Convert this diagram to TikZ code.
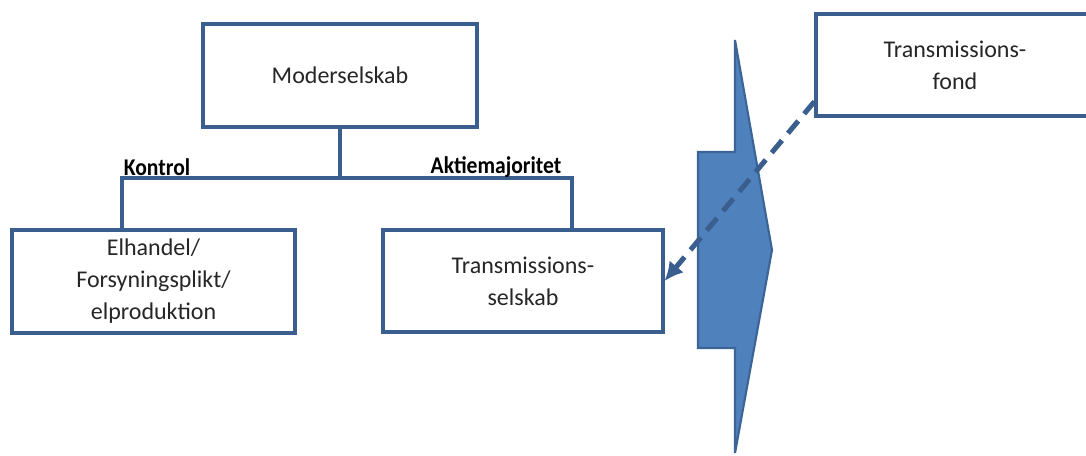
\documentclass[tikz,border=0pt]{standalone}
\usepackage{fontspec}
\setmainfont{Carlito}
\usetikzlibrary{arrows.meta}
\definecolor{boxline}{HTML}{3A5F8E}
\definecolor{shapefill}{HTML}{4F81BD}
\definecolor{shapeline}{HTML}{3B6497}
\begin{document}
\begin{tikzpicture}[x=0.75pt,y=-0.75pt,
  orgbox/.style={draw=boxline,line width=2.3pt,fill=white,align=center,
    font=\fontsize{18}{24}\selectfont,text=black!85,inner sep=0pt},
  conn/.style={draw=boxline,line width=2.3pt},
  lbl/.style={font=\fontsize{18}{22}\selectfont\bfseries,inner sep=0pt,text=black},
  dasharrow/.style={draw=boxline,line width=3.8pt,dash pattern=on 12pt off 7pt,
    -{Latex[length=14pt,width=14pt]}}]
\useasboundingbox (0,0) rectangle (1086,456);
% boxes
\node[orgbox,minimum width=274*0.75pt,minimum height=103*0.75pt] (mod) at (340,75.5) {Moderselskab};
\node[orgbox,minimum width=283*0.75pt,minimum height=103*0.75pt] (elh) at (153.5,281.5) {Elhandel/\\Forsyningsplikt/\\elproduktion};
\node[orgbox,minimum width=280*0.75pt,minimum height=102*0.75pt] (trs) at (523,281) {Transmissions-\\selskab};
\node[orgbox,minimum width=278*0.75pt,minimum height=102*0.75pt] (fond) at (955,65) {Transmissions-\\fond};
% connectors
\coordinate (j) at (340,178);
\coordinate (kl) at (122,230);
\coordinate (kr) at (572,230);
\draw[conn] (mod.south) -- (j);
\draw[conn] (j) -| (kl);
\draw[conn] (j) -| (kr);
% labels
\node[lbl] (kontrol) at (157,167) {\scalebox{0.9}[1]{Kontrol}};
\node[lbl] (aktie) at (496,167) {\scalebox{0.9}[1]{Aktiemajoritet}};
% big shape
\draw[fill=shapefill,draw=shapeline,line width=1.6pt,line join=miter]
  (735,40) -- (772,250) -- (735,453) -- (735,348) -- (698,348) -- (698,152) -- (735,152) -- cycle;
% dashed arrow
\draw[dasharrow] ([yshift=12pt]fond.south west) -- (trs.east);
\end{tikzpicture}
\end{document}
